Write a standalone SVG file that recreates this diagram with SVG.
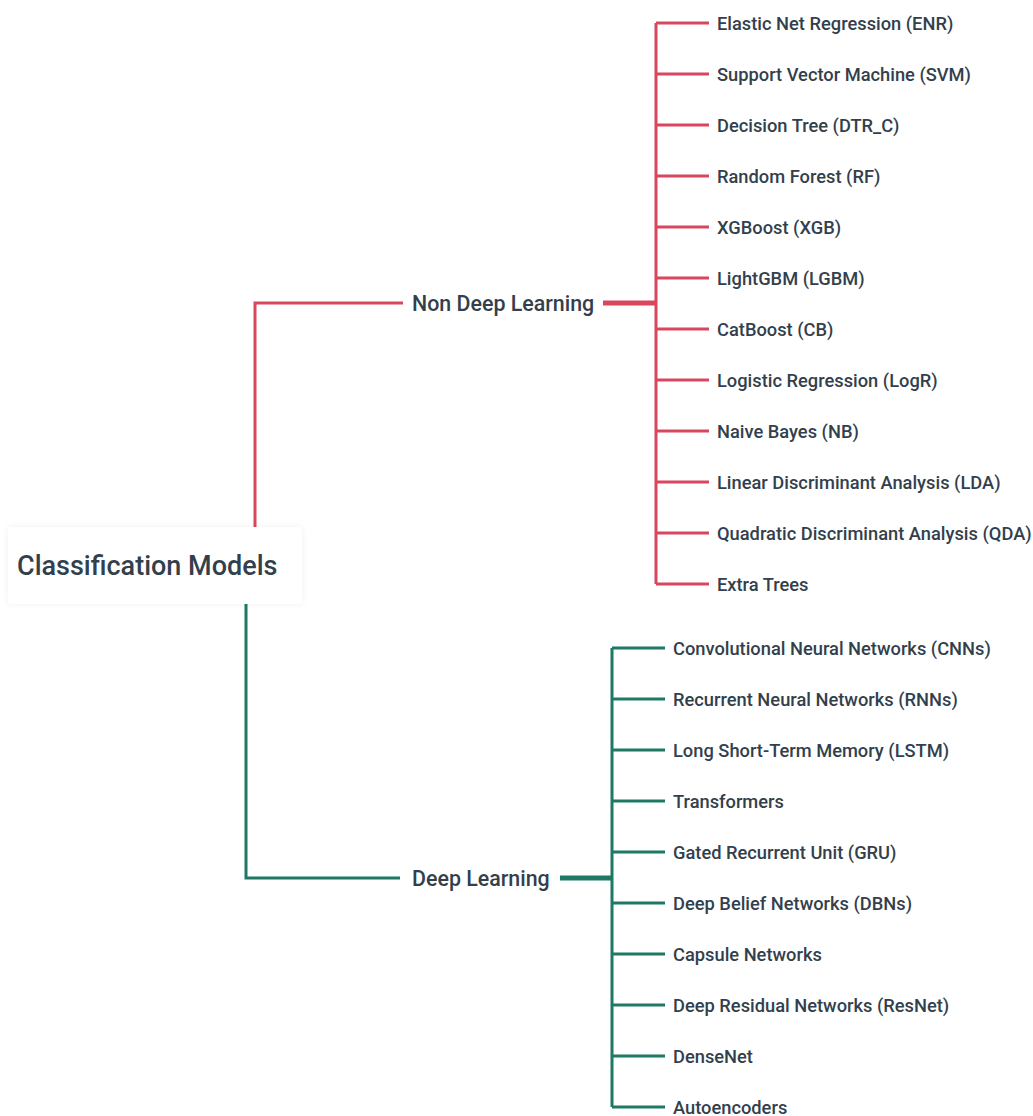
<svg xmlns="http://www.w3.org/2000/svg" width="1033" height="1116" viewBox="0 0 1033 1116">
<defs>
<filter id="sh" x="-10%" y="-20%" width="120%" height="140%"><feDropShadow dx="0" dy="0" stdDeviation="3" flood-color="#000" flood-opacity="0.06"/></filter>
</defs>
<style>
text{font-family:Roboto,"Liberation Sans",Arial,sans-serif;fill:#333f4c;font-weight:500}
.leaf{font-size:18.3px}
.mid{font-size:21.4px}
.root{font-size:27px}
.r{stroke:#d9475f;fill:none;stroke-width:3}
.g{stroke:#1d7864;fill:none;stroke-width:3}
.thick{stroke-width:5}
</style>
<rect width="1033" height="1116" fill="#fff"/>
<g id="connectors">
<path class="r" d="M255 527V303H403"/>
<path class="r thick" d="M603 303H656"/>
<path class="r" d="M656 23V584"/>
<path class="r" d="M656 23H709M656 74H709M656 125H709M656 176H709M656 227H709M656 278H709M656 329H709M656 380H709M656 431H709M656 482H709M656 533H709M656 584H709"/>
<path class="g" d="M246 604V878H400"/>
<path class="g thick" d="M560 878H612"/>
<path class="g" d="M612 648V1107"/>
<path class="g" d="M612 648H665M612 699H665M612 750H665M612 801H665M612 852H665M612 903H665M612 954H665M612 1005H665M612 1056H665M612 1107H665"/>
</g>
<g id="root"><rect x="8" y="527" width="294" height="77" rx="4" fill="#fff" filter="url(#sh)"/><text class="root" x="17" y="575">Classification Models</text></g>
<g id="non-deep"><text class="mid" x="412" y="311">Non Deep Learning</text></g>
<g id="deep"><text class="mid" x="412" y="886">Deep Learning</text></g>
<g id="nd-items" class="leaf">
<g id="enr"><text class="leaf" x="717" y="29.5">Elastic Net Regression (ENR)</text></g>
<g id="svm"><text class="leaf" x="717" y="80.5">Support Vector Machine (SVM)</text></g>
<g id="dtr"><text class="leaf" x="717" y="131.5">Decision Tree (DTR_C)</text></g>
<g id="rf"><text class="leaf" x="717" y="182.5">Random Forest (RF)</text></g>
<g id="xgb"><text class="leaf" x="717" y="233.5">XGBoost (XGB)</text></g>
<g id="lgbm"><text class="leaf" x="717" y="284.5">LightGBM (LGBM)</text></g>
<g id="cb"><text class="leaf" x="717" y="335.5">CatBoost (CB)</text></g>
<g id="logr"><text class="leaf" x="717" y="386.5">Logistic Regression (LogR)</text></g>
<g id="nb"><text class="leaf" x="717" y="437.5">Naive Bayes (NB)</text></g>
<g id="lda"><text class="leaf" x="717" y="488.5">Linear Discriminant Analysis (LDA)</text></g>
<g id="qda"><text class="leaf" x="717" y="539.5">Quadratic Discriminant Analysis (QDA)</text></g>
<g id="et"><text class="leaf" x="717" y="590.5">Extra Trees</text></g>
</g>
<g id="d-items">
<g id="cnn"><text class="leaf" x="673" y="654.5">Convolutional Neural Networks (CNNs)</text></g>
<g id="rnn"><text class="leaf" x="673" y="705.5">Recurrent Neural Networks (RNNs)</text></g>
<g id="lstm"><text class="leaf" x="673" y="756.5">Long Short-Term Memory (LSTM)</text></g>
<g id="tr"><text class="leaf" x="673" y="807.5">Transformers</text></g>
<g id="gru"><text class="leaf" x="673" y="858.5">Gated Recurrent Unit (GRU)</text></g>
<g id="dbn"><text class="leaf" x="673" y="909.5">Deep Belief Networks (DBNs)</text></g>
<g id="caps"><text class="leaf" x="673" y="960.5">Capsule Networks</text></g>
<g id="resnet"><text class="leaf" x="673" y="1011.5">Deep Residual Networks (ResNet)</text></g>
<g id="dense"><text class="leaf" x="673" y="1062.5">DenseNet</text></g>
<g id="ae"><text class="leaf" x="673" y="1113.5">Autoencoders</text></g>
</g>
</svg>
